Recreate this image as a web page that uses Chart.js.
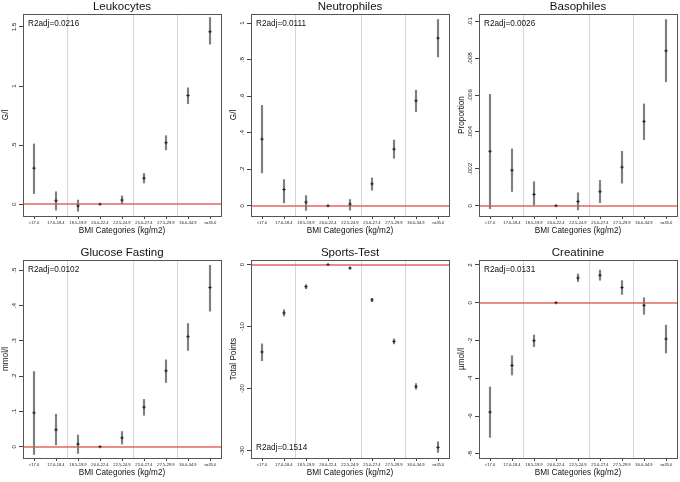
<!DOCTYPE html>
<html>
<head>
<meta charset="utf-8">
<script src="https://cdn.jsdelivr.net/npm/chart.js@4.4.0/dist/chart.umd.min.js"></script>
<style>
  html, body { margin: 0; padding: 0; background: #fff; }
  #wrap { position: relative; width: 680px; height: 482px; overflow: hidden; }
  .cell { position: absolute; }
</style>
</head>
<body>
<div id="wrap">
  <div class="cell" style="left:0px;top:0px;width:226px;height:240px"><canvas id="c0"></canvas></div>
  <div class="cell" style="left:228px;top:0px;width:226px;height:240px"><canvas id="c1"></canvas></div>
  <div class="cell" style="left:456px;top:0px;width:226px;height:240px"><canvas id="c2"></canvas></div>
  <div class="cell" style="left:0px;top:246px;width:226px;height:236px"><canvas id="c3"></canvas></div>
  <div class="cell" style="left:228px;top:246px;width:226px;height:236px"><canvas id="c4"></canvas></div>
  <div class="cell" style="left:456px;top:246px;width:226px;height:236px"><canvas id="c5"></canvas></div>
</div>
<script>
const categories = ['<17.0', '17.0-18.4', '18.5-19.9', '20.0-22.4', '22.5-24.9', '25.0-27.4', '27.5-29.9', '30.0-34.9', '>=35.0'];
// BMI boundaries 18.5 / 25 / 30 sit between these category indices
const separators = [1.5, 4.5, 6.5];

// Leukocytes
const leukoEst = [0.305, 0.03, -0.015, 0, 0.035, 0.22, 0.52, 0.92, 1.46];
const leukoLo  = [0.09, -0.05, -0.06, 0, 0.0, 0.18, 0.46, 0.85, 1.355];
const leukoHi  = [0.51, 0.105, 0.035, 0, 0.07, 0.26, 0.58, 0.985, 1.58];
const leukoTicks = [0, 0.5, 1, 1.5];
const leukoRange = [-0.1, 1.61];

// Neutrophiles
const neutroEst = [0.365, 0.089, 0.02, 0, 0.009, 0.12, 0.31, 0.575, 0.918];
const neutroLo  = [0.18, 0.016, -0.025, 0, -0.024, 0.085, 0.26, 0.515, 0.815];
const neutroHi  = [0.55, 0.143, 0.056, 0, 0.034, 0.152, 0.36, 0.633, 1.02];
const neutroTicks = [0, 0.2, 0.4, 0.6, 0.8, 1];
const neutroRange = [-0.056, 1.05];

// Basophiles
const basoEst = [0.00295, 0.00192, 0.00061, 0, 0.00023, 0.00076, 0.00209, 0.00457, 0.0084];
const basoLo  = [-0.00016, 0.00077, 0.0, 0, -0.00023, 0.00016, 0.00122, 0.00358, 0.00672];
const basoHi  = [0.00604, 0.00308, 0.0013, 0, 0.0007, 0.00137, 0.00295, 0.00552, 0.0101];
const basoTicks = [0, 0.002, 0.004, 0.006, 0.008, 0.01];
const basoRange = [-0.00056, 0.0104];

// Glucose Fasting
const glucEst = [0.096, 0.048, 0.0075, 0, 0.025, 0.112, 0.215, 0.312, 0.451];
const glucLo  = [-0.022, 0.005, -0.019, 0, 0.0075, 0.089, 0.182, 0.273, 0.384];
const glucHi  = [0.213, 0.092, 0.033, 0, 0.043, 0.134, 0.246, 0.349, 0.514];
const glucTicks = [0, 0.1, 0.2, 0.3, 0.4, 0.5];
const glucRange = [-0.032, 0.529];

// Sports-Test
const sportEst = [-14.1, -7.8, -3.57, 0, -0.58, -5.7, -12.4, -19.7, -29.5];
const sportLo  = [-15.5, -8.3, -3.9, 0, -0.73, -6.0, -12.8, -20.1, -30.3];
const sportHi  = [-12.8, -7.3, -3.25, 0, -0.42, -5.45, -12.0, -19.2, -28.6];
const sportTicks = [-30, -20, -10, 0];
const sportRange = [-31.2, 0.73];

// Creatinine
const creaEst = [-5.79, -3.32, -2.01, 0, 1.31, 1.45, 0.80, -0.14, -1.92];
const creaLo  = [-7.13, -3.83, -2.33, 0, 1.12, 1.19, 0.44, -0.61, -2.66];
const creaHi  = [-4.46, -2.81, -1.71, 0, 1.52, 1.73, 1.17, 0.26, -1.19];
const creaTicks = [-8, -6, -4, -2, 0, 2];
const creaRange = [-8.22, 2.26];

const panels = [
  { id: 'c0', title: 'Leukocytes', unit: 'G/l', est: leukoEst, lo: leukoLo, hi: leukoHi, ticks: leukoTicks, range: leukoRange, r2: 'R2adj=0.0216', bottom: false },
  { id: 'c1', title: 'Neutrophiles', unit: 'G/l', est: neutroEst, lo: neutroLo, hi: neutroHi, ticks: neutroTicks, range: neutroRange, r2: 'R2adj=0.0111', bottom: false },
  { id: 'c2', title: 'Basophiles', unit: 'Proportion', est: basoEst, lo: basoLo, hi: basoHi, ticks: basoTicks, range: basoRange, r2: 'R2adj=0.0026', bottom: false },
  { id: 'c3', title: 'Glucose Fasting', unit: 'mmol/l', est: glucEst, lo: glucLo, hi: glucHi, ticks: glucTicks, range: glucRange, r2: 'R2adj=0.0102', bottom: false },
  { id: 'c4', title: 'Sports-Test', unit: 'Total Points', est: sportEst, lo: sportLo, hi: sportHi, ticks: sportTicks, range: sportRange, r2: 'R2adj=0.1514', bottom: true },
  { id: 'c5', title: 'Creatinine', unit: '\u00b5mol/l', est: creaEst, lo: creaLo, hi: creaHi, ticks: creaTicks, range: creaRange, r2: 'R2adj=0.0131', bottom: false }
];

const FONT = '"Liberation Sans", Arial, Helvetica, sans-serif';

// Stata style: ".5" instead of "0.5"
function stataLabel(v) {
  const s = String(+v.toFixed(6));
  return s.replace(/^0\./, '.').replace(/^-0\./, '-.');
}

const panelDecor = {
  id: 'panelDecor',
  beforeDatasetsDraw(chart) {
    const { ctx, chartArea: a, scales: { x, y } } = chart;
    ctx.save();
    ctx.lineWidth = 1;
    ctx.strokeStyle = '#d6d6d6';
    separators.forEach(s => {
      const px = Math.round(x.getPixelForValue(s)) + 0.5;
      ctx.beginPath();
      ctx.moveTo(px, a.top);
      ctx.lineTo(px, a.bottom);
      ctx.stroke();
    });
    // zero reference line
    const py0 = Math.round(y.getPixelForValue(0));
    ctx.strokeStyle = '#e5675c';
    ctx.lineWidth = 1.5;
    ctx.beginPath();
    ctx.moveTo(a.left, py0);
    ctx.lineTo(a.right, py0);
    ctx.stroke();
    ctx.restore();
  },
  afterDraw(chart, args, opts) {
    const { ctx, chartArea: a, scales: { y } } = chart;
    ctx.save();
    // box round the plot
    ctx.strokeStyle = '#555';
    ctx.lineWidth = 1;
    ctx.strokeRect(Math.round(a.left) + 0.5, Math.round(a.top) + 0.5, Math.round(a.right - a.left), Math.round(a.bottom - a.top));

    // panel title, centred on the plot box
    ctx.fillStyle = '#111';
    ctx.font = '11.5px ' + FONT;
    ctx.textAlign = 'center';
    ctx.textBaseline = 'middle';
    ctx.fillText(opts.title, (a.left + a.right) / 2, a.top - 7);

    // vertical y tick labels
    ctx.fillStyle = '#222';
    ctx.font = '6.2px ' + FONT;
    y.ticks.forEach(t => {
      const py = y.getPixelForValue(t.value);
      ctx.save();
      ctx.translate(a.left - 9, py);
      ctx.rotate(-Math.PI / 2);
      ctx.fillText(stataLabel(t.value), 0, 0);
      ctx.restore();
    });

    // R2adj note
    ctx.font = '8.2px ' + FONT;
    ctx.fillStyle = '#111';
    ctx.textAlign = 'left';
    const ty = opts.bottom ? a.bottom - 10 : a.top + 10;
    ctx.fillText(opts.text, a.left + 5, ty);
    ctx.restore();
  }
};

panels.forEach(p => {
  new Chart(document.getElementById(p.id), {
    data: {
      labels: categories,
      datasets: [
        {
          type: 'bar',
          data: p.lo.map((l, i) => [l, p.hi[i]]),
          backgroundColor: '#808080',
          borderWidth: 0,
          barThickness: 1.5,
          order: 2
        },
        {
          type: 'line',
          data: p.est,
          showLine: false,
          pointStyle: 'cross',
          pointRadius: 1.6,
          pointBorderWidth: 1,
          pointBorderColor: '#222',
          pointBackgroundColor: '#222',
          order: 1
        }
      ]
    },
    options: {
      responsive: true,
      maintainAspectRatio: false,
      animation: false,
      layout: { padding: { left: 0, right: 5, top: 14, bottom: 0 } },
      plugins: {
        legend: { display: false },
        tooltip: { enabled: false },
        title: { display: false },
        panelDecor: { title: p.title, text: p.r2, bottom: p.bottom }
      },
      scales: {
        x: {
          type: 'category',
          offset: true,
          grid: { offset: false, drawOnChartArea: false, tickLength: 3, tickColor: '#444' },
          border: { display: false },
          ticks: {
            font: { size: 4.1, family: FONT },
            color: '#222',
            maxRotation: 0,
            minRotation: 0,
            autoSkip: false,
            padding: 1
          },
          title: {
            display: true,
            text: 'BMI Categories (kg/m2)',
            color: '#111',
            font: { size: 8.2, family: FONT },
            padding: { top: 0, bottom: 4 }
          },
          afterFit(s) { s.height = 24; }
        },
        y: {
          min: p.range[0],
          max: p.range[1],
          afterBuildTicks(s) { s.ticks = p.ticks.map(v => ({ value: v })); },
          grid: {
            color: 'rgba(0,0,0,0)',
            lineWidth: 1,
            tickLength: 4,
            tickColor: '#444'
          },
          border: { display: false },
          ticks: { display: false },
          title: {
            display: true,
            text: p.unit,
            color: '#111',
            font: { size: 8.2, family: FONT },
            padding: { top: 1, bottom: 0 }
          },
          afterFit(s) { s.width = 23; }
        }
      }
    },
    plugins: [panelDecor]
  });
});
</script>
</body>
</html>
